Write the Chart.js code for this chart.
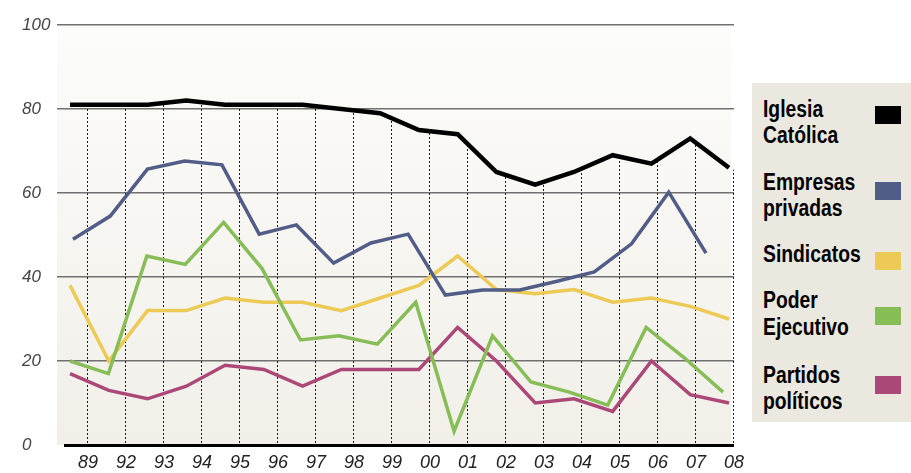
<!DOCTYPE html>
<html>
<head>
<meta charset="utf-8">
<script src="https://cdn.jsdelivr.net/npm/chart.js@4"></script>
<style>
  html, body { margin: 0; padding: 0; background: #fff; }
  #wrap { position: relative; width: 911px; height: 473px; }
  #legend {
    position: absolute; left: 752px; top: 83px; width: 159px; height: 339px;
    background: #ebe8df;
    font-family: 'Liberation Sans', Arial, sans-serif;
    font-weight: bold; font-size: 23px; line-height: 26.5px; color: #000;
  }
  .item { position: absolute; left: 11px; white-space: nowrap; transform: scaleX(0.84); transform-origin: 0 0; }
  .sw { position: absolute; left: 123px; width: 26px; height: 17.5px; }
</style>
</head>
<body>
<div id="wrap">
  <canvas id="chart"></canvas>
  <div id="legend"></div>
</div>
<script>
// ---- data ----
const YEARS      = ['89','92','93','94','95','96','97','98','99','00','01','02','03','04','05','06','07','08'];
const IGLESIA    = [81, 81, 81, 82, 81, 81, 81, 80, 79, 75, 74, 65, 62, 65, 69, 67, 73, 66];
const EMPRESAS   = [49, 54.5, 65.7, 67.6, 66.7, 50.2, 52.4, 43.3, 48.1, 50.2, 35.7, 36.9, 36.9, 39, 41.2, 47.9, 60.2, 45.7];
const SINDICATOS = [38, 20, 32, 32, 35, 34, 34, 32, 35, 38, 45, 37, 36, 37, 34, 35, 33, 30];
const PODER      = [20, 17, 45, 43, 53, 42, 25, 26, 24, 34, 3.3, 26, 15, 12.6, 9.5, 28, 20.7, 12.6];
const PARTIDOS   = [17, 13, 11, 14, 19, 18, 14, 18, 18, 18, 28, 20, 10, 11, 8, 20, 12, 10];
const NAMES      = [['Iglesia', 'Católica'], ['Empresas', 'privadas'], ['Sindicatos'], ['Poder', 'Ejecutivo'], ['Partidos', 'políticos']];
const Y_TICKS    = [0, 20, 40, 60, 80, 100];

// colours
const C = {
  iglesia:  '#000000',
  empresas: '#525d87',
  sind:     '#edc955',
  poder:    '#87bd57',
  partidos: '#ac4878',
  grid:     '#707070',
  bgTop:    '#fcfcfa',
  bgBot:    '#f1efe8',
};

// plot area edges in the page (px), used to place the hidden x scales
const LEFT = 57, RIGHT = 734, BASE_LEFT = 64, LAST = YEARS.length - 1;
function span(first, last) {
  const k = LAST / (last - first);
  return { min: -(first - LEFT) * k, max: LAST + (RIGHT - last) * k };
}

const pts = arr => arr.map((v, i) => ({ x: i, y: v }));

// ---- legend (html) ----
const legendTops = [12.5, 85.8, 158, 204, 278.5];
const swatchTops = [23, 99, 169, 224, 293];
const legendCols = [C.iglesia, C.empresas, C.sind, C.poder, C.partidos];
const legend = document.getElementById('legend');
NAMES.forEach((lines, i) => {
  const t = document.createElement('div');
  t.className = 'item';
  t.style.top = legendTops[i] + 'px';
  t.innerHTML = lines.join('<br>');
  legend.appendChild(t);
  const s = document.createElement('div');
  s.className = 'sw';
  s.style.top = swatchTops[i] + 'px';
  s.style.background = legendCols[i];
  legend.appendChild(s);
});

// ---- plugins ----
const plotBg = {
  id: 'plotBg',
  beforeDraw(chart) {
    const { ctx, chartArea: a } = chart;
    const g = ctx.createLinearGradient(0, a.top, 0, a.bottom);
    g.addColorStop(0, C.bgTop);
    g.addColorStop(1, C.bgBot);
    ctx.save();
    ctx.fillStyle = g;
    ctx.fillRect(a.left, a.top, a.right - 3 - a.left, a.bottom - a.top);
    ctx.restore();
  }
};

// dotted drop lines from the baseline up to the Iglesia line, plus the black baseline
const dropLines = {
  id: 'dropLines',
  beforeDatasetsDraw(chart) {
    const { ctx, chartArea: a, scales } = chart;
    const xl = scales.xl, xm = scales.x, y = scales.y;
    ctx.save();
    ctx.strokeStyle = '#1a1a1a';
    ctx.lineWidth = 1;
    ctx.setLineDash([2, 2]);
    YEARS.forEach((_, j) => {
      const px = Math.round(xl.getPixelForValue(j)) - 0.5;
      let f = Math.min(Math.max(xm.getValueForPixel(px), 0), LAST);
      const i0 = Math.floor(f), i1 = Math.min(i0 + 1, LAST);
      const v = IGLESIA[i0] + (IGLESIA[i1] - IGLESIA[i0]) * (f - i0);
      const top = y.getPixelForValue(v) + 2;
      ctx.beginPath();
      ctx.moveTo(px, a.bottom - 2);
      ctx.lineTo(px, top);
      ctx.stroke();
    });
    // baseline at 0
    ctx.setLineDash([]);
    ctx.strokeStyle = '#000';
    ctx.lineWidth = 3;
    const y0 = Math.round(y.getPixelForValue(0)) + 0.5;
    ctx.beginPath();
    ctx.moveTo(BASE_LEFT, y0);
    ctx.lineTo(a.right, y0);
    ctx.stroke();
    ctx.restore();
  }
};

// ---- chart ----
const hiddenX = (first, last) => Object.assign({ type: 'linear', display: false, bounds: 'data' }, span(first, last));

function line(data, color, width, axis) {
  return {
    data: pts(data),
    borderColor: color,
    backgroundColor: color,
    borderWidth: width,
    pointRadius: 0,
    tension: 0,
    xAxisID: axis,
  };
}

new Chart(document.getElementById('chart'), {
  type: 'line',
  data: {
    datasets: [
      line(IGLESIA, C.iglesia, 4.5, 'x'),
      line(EMPRESAS, C.empresas, 3.5, 'xb'),
      line(PODER, C.poder, 3.5, 'xg'),
      line(SINDICATOS, C.sind, 3.5, 'x'),
      line(PARTIDOS, C.partidos, 3.5, 'x'),
    ]
  },
  options: {
    responsive: true,
    maintainAspectRatio: false,
    animation: false,
    layout: { padding: { left: 22, right: 911 - RIGHT, top: 25, bottom: 0 } },
    plugins: { legend: { display: false }, tooltip: { enabled: false } },
    scales: {
      x:  hiddenX(70, 729),
      xg: hiddenX(70, 723),
      xb: hiddenX(73, 706),
      xl: Object.assign({
        type: 'linear',
        position: 'bottom',
        bounds: 'data',
        afterBuildTicks(s) { s.ticks = YEARS.map((_, i) => ({ value: i })); },
        afterFit(s) { s.height = 28; },
        ticks: {
          autoSkip: false,
          maxRotation: 0,
          padding: 7,
          color: '#222',
          font: { family: "'Liberation Sans', sans-serif", size: 18, style: 'italic' },
          callback: v => YEARS[v],
        },
        grid: { display: false, drawTicks: false },
        border: { display: false },
      }, span(88, 734)),
      y: {
        min: 0,
        max: 100,
        afterBuildTicks(s) { s.ticks = Y_TICKS.map(v => ({ value: v })); },
        afterFit(s) { s.width = LEFT - 22; },
        ticks: {
          crossAlign: 'far',
          padding: 0,
          labelOffset: 0,
          color: '#444',
          font: { family: "'Liberation Sans', sans-serif", size: 17, style: 'italic' },
        },
        grid: {
          drawTicks: false,
          color: c => c.tick && c.tick.value === 0 ? 'rgba(0,0,0,0)' : C.grid,
          lineWidth: 1.5,
        },
        border: { display: false },
      }
    }
  },
  plugins: [plotBg, dropLines]
});
</script>
</body>
</html>
